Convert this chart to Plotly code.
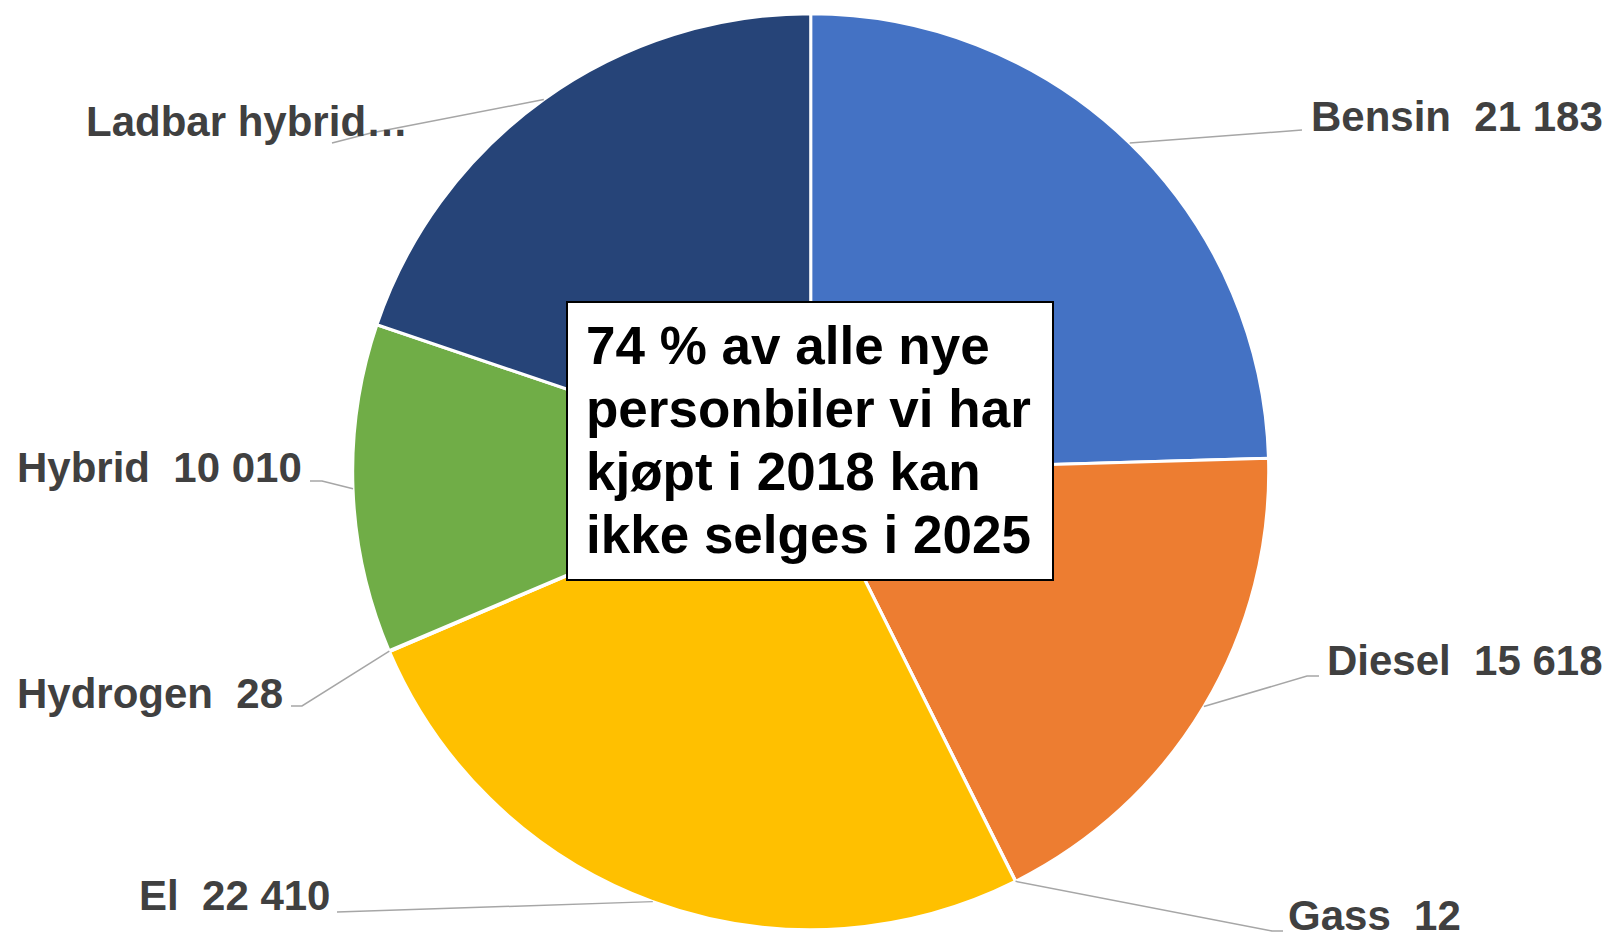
import math
import plotly.graph_objects as go

# data
fuel_types = ["Bensin", "Diesel", "Gass", "El", "Hydrogen", "Hybrid", "Ladbar hybrid"]
registrations = [21183, 15618, 12, 22410, 28, 10010, 17100]
label_texts = ["Bensin  21 183", "Diesel  15 618", "Gass  12", "El  22 410",
               "Hydrogen  28", "Hybrid  10 010", "Ladbar hybrid…"]
colors = ["#4472C4", "#ED7D31", "#A5A5A5", "#FFC000", "#5B9BD5", "#70AD47", "#264478"]
box_lines = ["74 % av alle nye", "personbiler vi har", "kjøpt i 2018 kan", "ikke selges i 2025"]

W, H = 1608, 934
CX, CY, R = 810.7, 471.7, 458.0


def px(x):
    return x / W


def py(y):
    return 1 - y / H


# label layout: text x, text mid y, anchor side, elbow point, tail end
label_layout = [
    (1309, 116, "left", (1302, 130), (1302, 130)),
    (1325, 660, "left", (1307, 676), (1319, 676)),
    (1286, 915, "left", (1272, 931), (1283, 931)),
    (332, 895, "right", (337, 912), (337, 912)),
    (285, 693, "right", (302, 706), (291, 706)),
    (304, 467, "right", (322, 481), (310, 481)),
    (84, 122, "left", (371, 133), (332, 143)),
]

fig = go.Figure(go.Pie(
    labels=fuel_types,
    values=registrations,
    sort=False,
    direction="clockwise",
    rotation=0,
    textinfo="none",
    hoverinfo="label+value",
    marker=dict(colors=colors, line=dict(color="white", width=3)),
    domain=dict(x=[(CX - R) / W, (CX + R) / W], y=[(H - CY - R) / H, (H - CY + R) / H]),
    showlegend=False,
))

total = sum(registrations)
cum = 0
shapes = []
annotations = []
for val, txt, (tx, ty, side, elbow, tail) in zip(registrations, label_texts, label_layout):
    mid = (cum + val / 2) / total * 2 * math.pi
    cum += val
    ax = CX + R * math.sin(mid)
    ay = CY - R * math.cos(mid)
    shapes.append(dict(type="path", xref="paper", yref="paper",
                       path=f"M {px(ax)},{py(ay)} L {px(elbow[0])},{py(elbow[1])} L {px(tail[0])},{py(tail[1])}",
                       line=dict(color="#A6A6A6", width=1.5)))
    annotations.append(dict(x=px(tx), y=py(ty), xref="paper", yref="paper", text=txt,
                            showarrow=False, xanchor=side, yanchor="middle",
                            font=dict(family="Liberation Sans", size=42, color="#404040", weight="bold")))

# central text box
shapes.append(dict(type="rect", xref="paper", yref="paper",
                   x0=px(567), x1=px(1053), y0=py(580), y1=py(302),
                   fillcolor="white", line=dict(color="black", width=2)))
for i, line in enumerate(box_lines):
    annotations.append(dict(x=px(584), y=py(345 + i * 63.3), xref="paper", yref="paper", text=line,
                            showarrow=False, xanchor="left", yanchor="middle",
                            font=dict(family="Liberation Sans", size=53, color="black", weight="bold")))

fig.update_layout(
    width=W, height=H,
    margin=dict(l=0, r=0, t=0, b=0),
    paper_bgcolor="white",
    plot_bgcolor="white",
    shapes=shapes,
    annotations=annotations,
)

fig.write_html("out.html", config={"displayModeBar": False},
               post_script="document.body.style.margin='0';document.body.style.overflow='hidden';")
